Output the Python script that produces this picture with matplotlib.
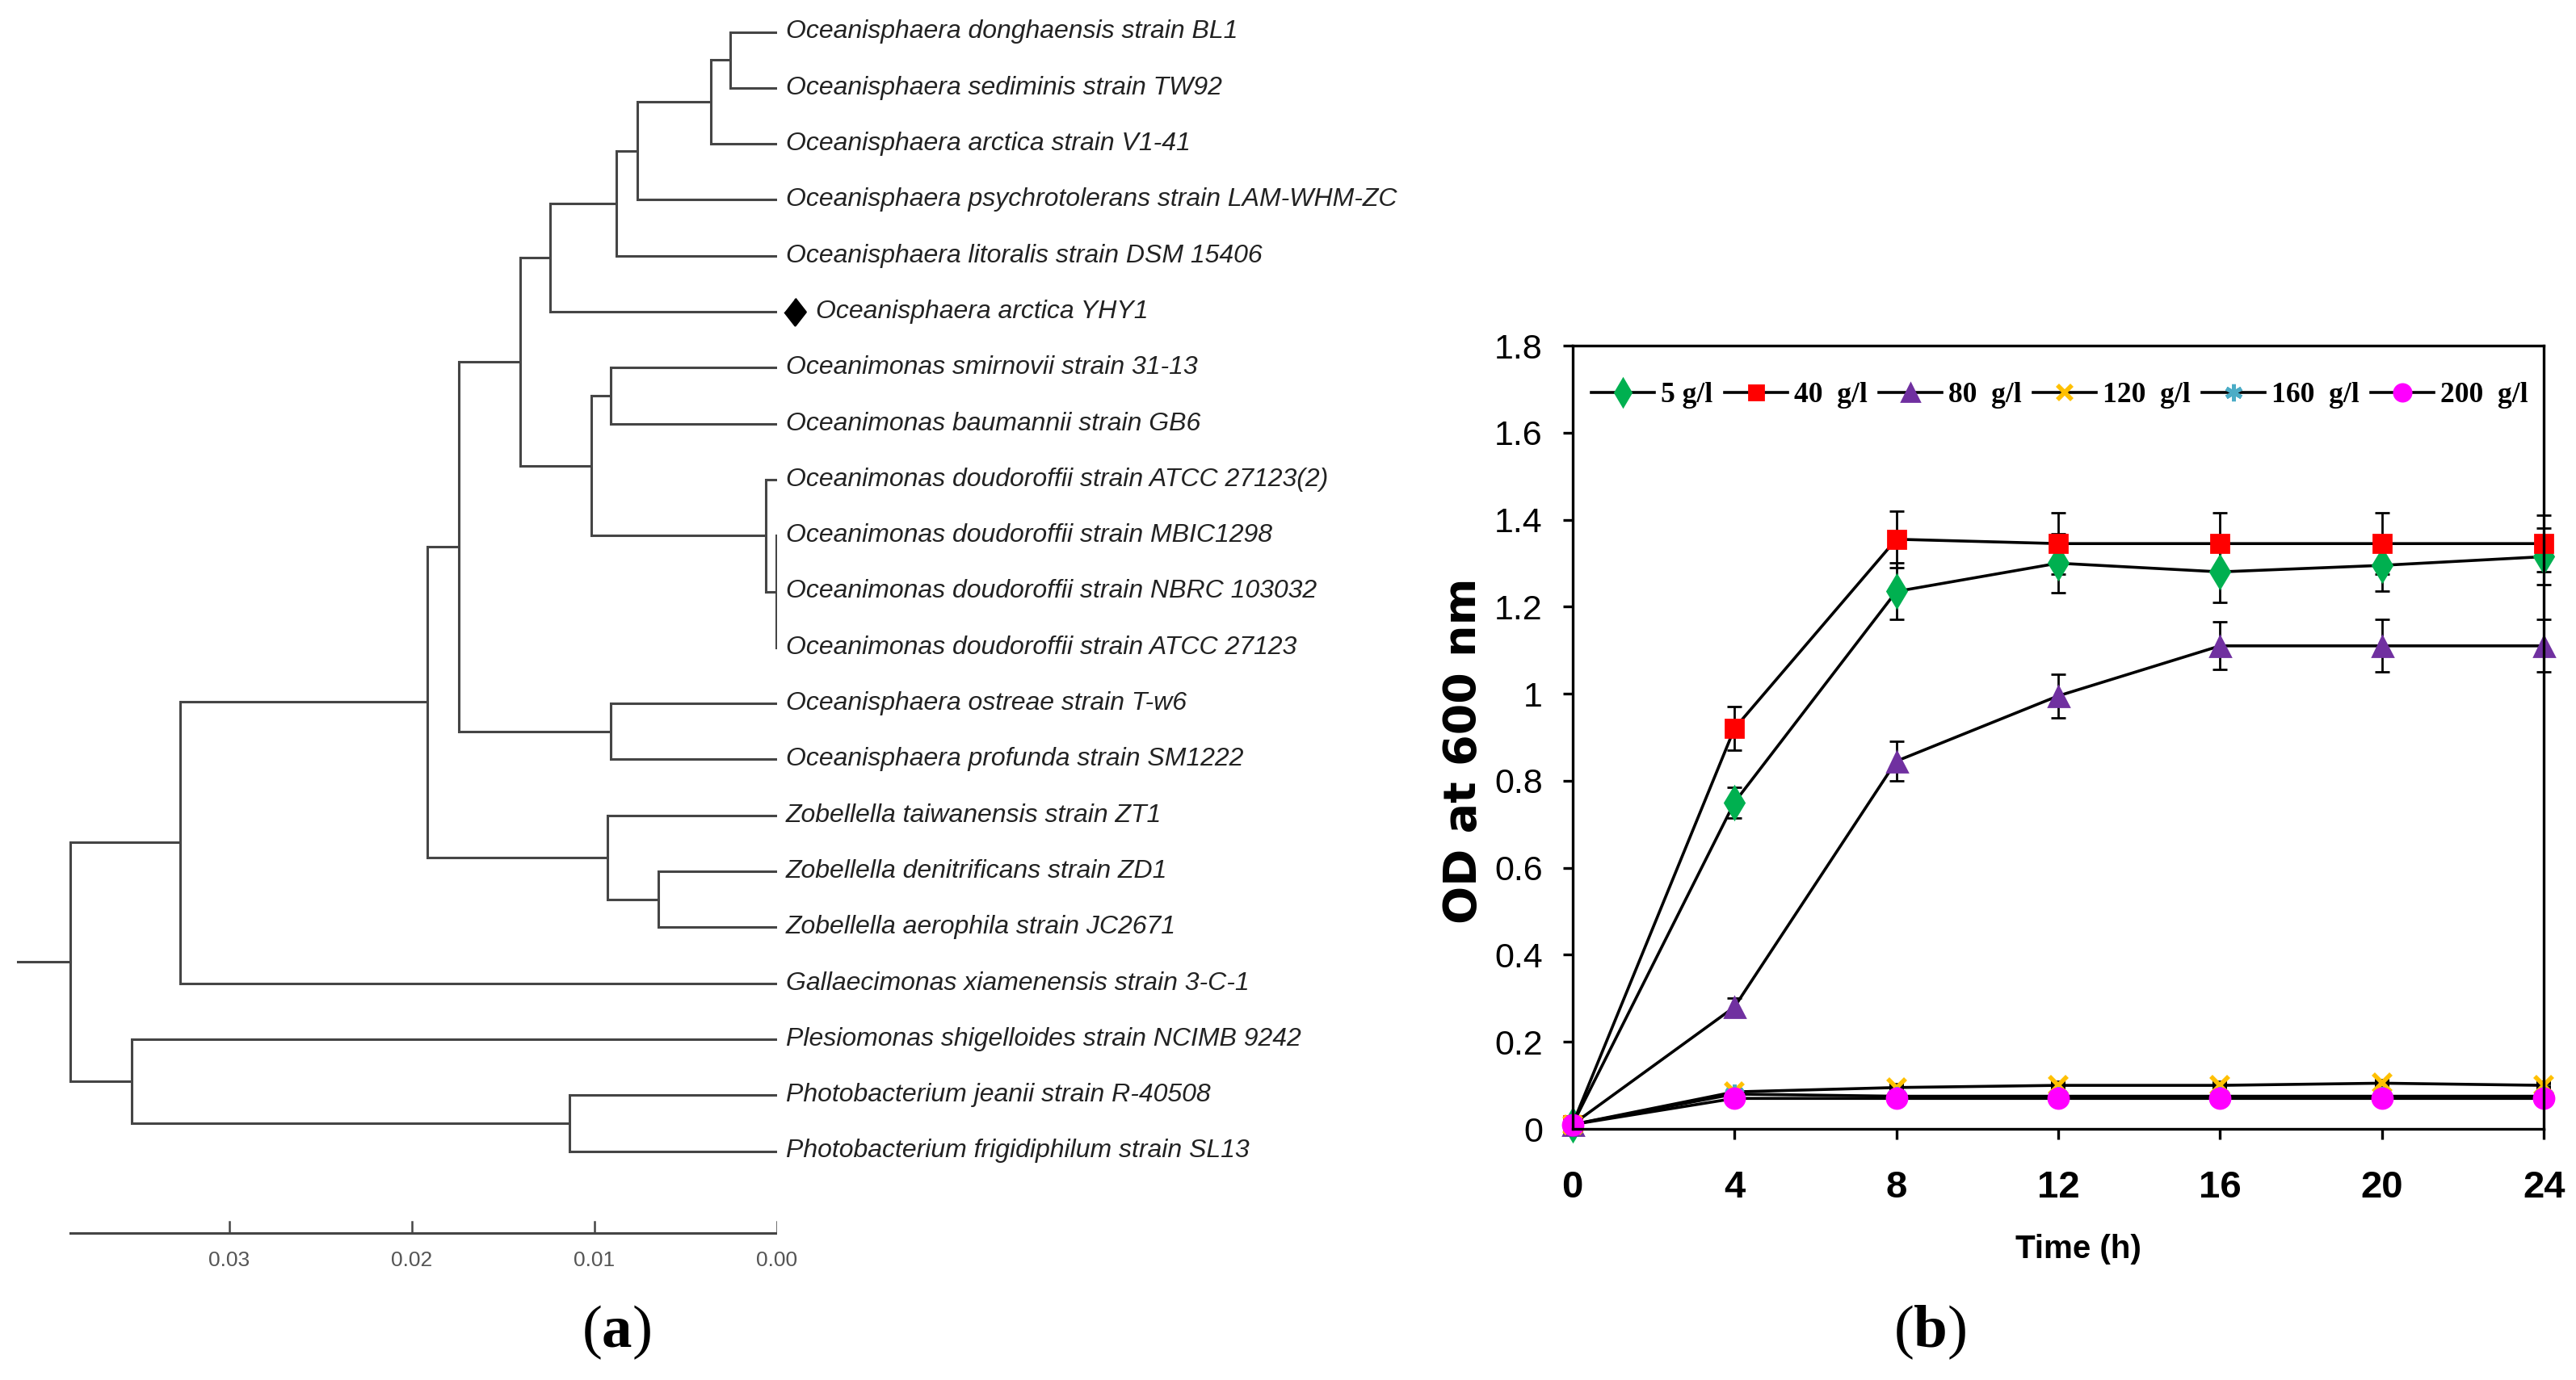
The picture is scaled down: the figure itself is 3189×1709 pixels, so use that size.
import matplotlib
matplotlib.use('Agg')
import matplotlib.pyplot as plt
from matplotlib import font_manager as fm
from matplotlib.transforms import offset_copy
from matplotlib.lines import Line2D

# ---------------- data: phylogenetic tree (a) ----------------
leaf_names = [
    "Oceanisphaera donghaensis strain BL1",
    "Oceanisphaera sediminis strain TW92",
    "Oceanisphaera arctica strain V1-41",
    "Oceanisphaera psychrotolerans strain LAM-WHM-ZC",
    "Oceanisphaera litoralis strain DSM 15406",
    "Oceanisphaera arctica YHY1",
    "Oceanimonas smirnovii strain 31-13",
    "Oceanimonas baumannii strain GB6",
    "Oceanimonas doudoroffii strain ATCC 27123(2)",
    "Oceanimonas doudoroffii strain MBIC1298",
    "Oceanimonas doudoroffii strain NBRC 103032",
    "Oceanimonas doudoroffii strain ATCC 27123",
    "Oceanisphaera ostreae strain T-w6",
    "Oceanisphaera profunda strain SM1222",
    "Zobellella taiwanensis strain ZT1",
    "Zobellella denitrificans strain ZD1",
    "Zobellella aerophila strain JC2671",
    "Gallaecimonas xiamenensis strain 3-C-1",
    "Plesiomonas shigelloides strain NCIMB 9242",
    "Photobacterium jeanii strain R-40508",
    "Photobacterium frigidiphilum strain SL13",
]
highlight_leaf = "Oceanisphaera arctica YHY1"

# internal nodes: children (leaf index or node name) and node depth (distance from tips)
node_children = {
    "A1": [0, 1], "A2": ["A1", 2], "A3": ["A2", 3], "A4": ["A3", 4], "A5": ["A4", 5],
    "B1": [6, 7], "D2": [9, 10, 11], "D1": [8, "D2"], "B2": ["B1", "D1"],
    "C": ["A5", "B2"], "E": [12, 13], "F": ["C", "E"],
    "G1": [15, 16], "G2": [14, "G1"], "H": ["F", "G2"], "I": ["H", 17],
    "J1": [19, 20], "J2": [18, "J1"], "root": ["I", "J2"],
}
node_depth = {
    "A1": 0.00257, "A2": 0.00365, "A3": 0.00765, "A4": 0.0088, "A5": 0.01243,
    "B1": 0.00912, "D2": 0.00003, "D1": 0.00062, "B2": 0.01018,
    "C": 0.01409, "E": 0.00912, "F": 0.01743,
    "G1": 0.0065, "G2": 0.0093, "H": 0.01916, "I": 0.03272,
    "J1": 0.01137, "J2": 0.03535, "root": 0.0387,
}
root_stub_depth = 0.0416
scale_ticks = [0.03, 0.02, 0.01, 0.00]
scale_tick_labels = ["0.03", "0.02", "0.01", "0.00"]

# ---------------- data: growth curves (b) ----------------
time_h = [0, 4, 8, 12, 16, 20, 24]
series_labels = ["5 g/l", "40  g/l", "80  g/l", "120  g/l", "160  g/l", "200  g/l"]
od_5 = [0.01, 0.75, 1.235, 1.30, 1.28, 1.295, 1.315]
od_40 = [0.01, 0.92, 1.355, 1.345, 1.345, 1.345, 1.345]
od_80 = [0.01, 0.28, 0.845, 0.995, 1.11, 1.11, 1.11]
od_120 = [0.01, 0.085, 0.095, 0.10, 0.10, 0.105, 0.10]
od_160 = [0.01, 0.08, 0.075, 0.075, 0.075, 0.075, 0.075]
od_200 = [0.01, 0.07, 0.07, 0.07, 0.07, 0.07, 0.07]
err_5 = [0, 0.035, 0.065, 0.067, 0.07, 0.06, 0.065]
err_40 = [0, 0.05, 0.065, 0.07, 0.07, 0.07, 0.065]
err_80 = [0, 0.02, 0.045, 0.05, 0.055, 0.06, 0.06]
err_120 = [0, 0.005, 0.005, 0.005, 0.005, 0.005, 0.005]
err_160 = [0, 0.005, 0.005, 0.005, 0.005, 0.005, 0.005]
err_200 = [0, 0.005, 0.005, 0.005, 0.005, 0.005, 0.005]
y_ticks = [0, 0.2, 0.4, 0.6, 0.8, 1.0, 1.2, 1.4, 1.6, 1.8]
y_tick_labels = ["0", "0.2", "0.4", "0.6", "0.8", "1", "1.2", "1.4", "1.6", "1.8"]
x_ticks = [0, 4, 8, 12, 16, 20, 24]

# ---------------- fonts ----------------
def has_font(name):
    try:
        fm.findfont(fm.FontProperties(family=name), fallback_to_default=False)
        return True
    except Exception:
        return False

SANS = "Liberation Sans" if has_font("Liberation Sans") else "DejaVu Sans"
SERIF = "Liberation Serif" if has_font("Liberation Serif") else "DejaVu Serif"
plt.rcParams["mathtext.fontset"] = "custom"
plt.rcParams["mathtext.rm"] = SERIF
plt.rcParams["mathtext.bf"] = SERIF + ":bold"

W, H, DPI = 3189, 1709, 200
fig = plt.figure(figsize=(W / DPI, H / DPI), dpi=DPI)
fig.patch.set_facecolor("white")

# ================= panel (a): tree =================
tip_px, px_per_unit = 962.0, 22600.0
leaf0_px, leaf_step = 39.5, 69.3
axt = fig.add_axes([0, 0, tip_px / W, 1])
axt.set_xlim(tip_px / px_per_unit, 0)
axt.set_ylim((H - leaf0_px) / leaf_step, -leaf0_px / leaf_step)
axt.axis("off")

tree_col = "#454545"
tree_lw = 1.1
node_y = {}

def get_y(c):
    if isinstance(c, int):
        return float(c)
    if c in node_y:
        return node_y[c]
    ys = [get_y(k) for k in node_children[c]]
    node_y[c] = (min(ys) + max(ys)) / 2.0
    return node_y[c]

def get_depth(c):
    return 0.0 if isinstance(c, int) else node_depth[c]

for name, kids in node_children.items():
    d = node_depth[name]
    ys = [get_y(k) for k in kids]
    axt.plot([d, d], [min(ys), max(ys)], color=tree_col, lw=tree_lw, solid_capstyle="projecting")
    for k in kids:
        axt.plot([d, get_depth(k)], [get_y(k), get_y(k)], color=tree_col, lw=tree_lw,
                 solid_capstyle="butt")
ry = get_y("root")
axt.plot([root_stub_depth, node_depth["root"]], [ry, ry], color=tree_col, lw=tree_lw)

lab_tr = offset_copy(axt.transData, fig=fig, x=4.0, y=0, units="points")
hl_tr = offset_copy(axt.transData, fig=fig, x=17.3, y=0, units="points")
dm_tr = offset_copy(axt.transData, fig=fig, x=7.9, y=0, units="points")
for i, nm in enumerate(leaf_names):
    if nm == highlight_leaf:
        axt.plot([0], [i], transform=dm_tr, marker=[(0, 1), (0.78, 0), (0, -1), (-0.78, 0)],
                 ms=12, color="black", clip_on=False)
        tr = hl_tr
    else:
        tr = lab_tr
    axt.text(0, i, nm, transform=tr, ha="left", va="center", family=SANS,
             style="italic", fontsize=11.5, color="#222222", clip_on=False)

# scale bar
sb_y = (1527 - leaf0_px) / leaf_step
axt.plot([node_depth["root"], 0], [sb_y, sb_y], color=tree_col, lw=tree_lw)
for t, tl in zip(scale_ticks, scale_tick_labels):
    axt.plot([t, t], [sb_y, sb_y - 14 / leaf_step], color=tree_col, lw=0.9)
    axt.text(t, sb_y + 34 / leaf_step, tl, ha="center", va="center", family=SANS,
             fontsize=9.5, color="#555555")

# ================= panel (b): growth curves =================
x0, x1, yt, yb = 1946.7, 3149.3, 428.0, 1398.0
axb = fig.add_axes([x0 / W, (H - yb) / H, (x1 - x0) / W, (yb - yt) / H])
axb.set_xlim(0, 24)
axb.set_ylim(0, 1.8)
for sp in axb.spines.values():
    sp.set_linewidth(1.2)
    sp.set_color("black")

styles = [
    (od_5, err_5, "#00B050", "d", 10, 1.0),
    (od_40, err_40, "#FF0000", "s", 8, 1.0),
    (od_80, err_80, "#7030A0", "^", 9, 1.0),
    (od_120, err_120, "#FFC000", "x", 8, 2.0),
    (od_160, err_160, "#4BACC6", (6, 2, 0), 9, 1.8),
    (od_200, err_200, "#FF00FF", "o", 9, 1.0),
]
handles = []
for (od, er, col, mk, ms, mew) in styles:
    cont = axb.errorbar(time_h, od, yerr=er, color="black", lw=1.3, marker=mk, ms=ms,
                        mfc=col, mec=col, mew=mew, ecolor="black", elinewidth=1.0,
                        capsize=3.4, capthick=1.0, clip_on=False)
    for art in list(cont.lines[1]) + list(cont.lines[2]):
        art.set_clip_on(False)
    handles.append(Line2D([], [], color="black", lw=1.3, marker=mk, ms=ms * 0.85,
                          mfc=col, mec=col, mew=mew))

axb.set_yticks(y_ticks)
axb.set_yticklabels(y_tick_labels)
axb.set_xticks(x_ticks)
axb.set_xticklabels([str(v) for v in x_ticks])
axb.tick_params(axis="y", direction="out", length=4.3, width=1.2, pad=9)
axb.tick_params(axis="x", direction="out", length=4.5, width=1.2, pad=14)
for lb in axb.get_yticklabels():
    lb.set_fontfamily(SANS)
    lb.set_fontsize(15.5)
for lb in axb.get_xticklabels():
    lb.set_fontfamily(SANS)
    lb.set_fontsize(17)
    lb.set_fontweight("bold")

axb.set_xlabel("Time (h)", family=SANS, fontweight="bold", fontsize=14.5)
axb.xaxis.set_label_coords((2573 - x0) / (x1 - x0), (yb - 1547) / (yb - yt))
axb.xaxis.label.set_va("center")
axb.set_ylabel("OD at 600 nm", family="DejaVu Sans", fontweight="bold", fontsize=20,
               va="center")
axb.yaxis.set_label_coords((1812 - x0) / (x1 - x0), (yb - 930) / (yb - yt))

leg = axb.legend(handles, series_labels, ncol=6, loc="center left",
                 bbox_to_anchor=((1970 - x0) / (x1 - x0), (yb - 490) / (yb - yt)),
                 frameon=False, handlelength=2.2, handletextpad=0.22, columnspacing=0.4,
                 borderpad=0, borderaxespad=0,
                 prop=fm.FontProperties(family=SERIF, weight="bold", size=12.8))

# panel letters
fig.text(763 / W, 1 - 1650 / H, r"($\mathbf{a}$)", family=SERIF, fontsize=27,
         ha="center", va="center")
fig.text(2389 / W, 1 - 1650 / H, r"($\mathbf{b}$)", family=SERIF, fontsize=27,
         ha="center", va="center")

fig.savefig("out.png", dpi=DPI, facecolor="white")
